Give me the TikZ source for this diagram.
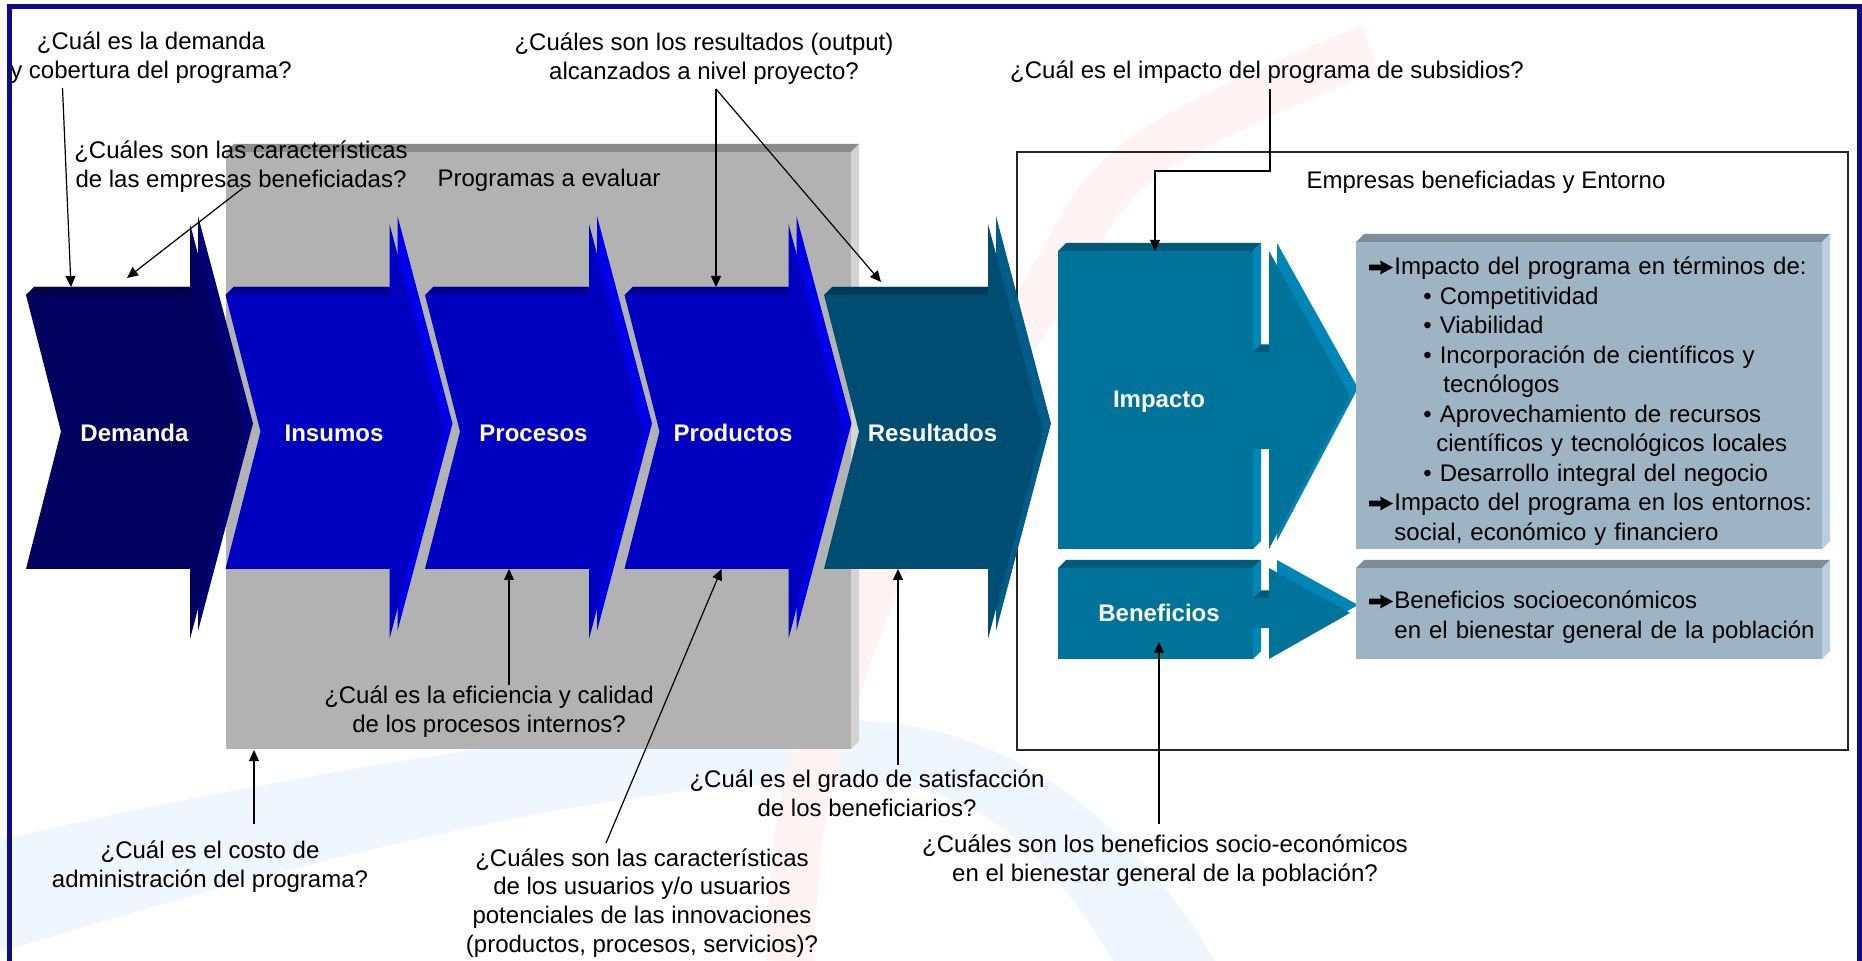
\documentclass[tikz,border=0pt]{standalone}
\usepackage{fontspec}
\setmainfont{Liberation Sans}
\usetikzlibrary{arrows.meta}
\definecolor{demF}{RGB}{0,0,94}
\definecolor{demT}{RGB}{0,0,68}
\definecolor{demS}{RGB}{0,0,118}
\definecolor{bluF}{RGB}{0,0,192}
\definecolor{bluT}{RGB}{0,0,148}
\definecolor{bluS}{RGB}{0,0,232}
\definecolor{resF}{RGB}{0,77,115}
\definecolor{resT}{RGB}{0,58,88}
\definecolor{resS}{RGB}{0,92,136}
\definecolor{impF}{RGB}{0,115,155}
\definecolor{impT}{RGB}{0,90,120}
\definecolor{impS}{RGB}{0,134,182}
\definecolor{txtF}{RGB}{158,179,196}
\definecolor{txtT}{RGB}{124,140,152}
\definecolor{txtS}{RGB}{182,207,225}
\definecolor{grF}{RGB}{178,178,178}
\definecolor{grT}{RGB}{140,140,140}
\definecolor{grS}{RGB}{212,212,212}
\definecolor{frameC}{RGB}{12,12,140}
\definecolor{blueSw}{RGB}{239,246,253}
\definecolor{pinkSw}{RGB}{255,244,243}
\tikzset{
  qtext/.style={align=center, inner sep=0pt, text=black},
  chevlabel/.style={text=white, inner sep=0pt, font=\fontsize{12}{14.4}\selectfont\bfseries},
  listtext/.style={text width=240pt, align=left, inner sep=0pt, font=\fontsize{12}{14.75}\selectfont},
  qarrow/.style={draw=black, line width=0.6pt, -{Triangle[length=5.5pt,width=5pt]}},
}
% chevron: #1 x0, #2 front, #3 top, #4 side, #5 label, #6 name
\newcommand{\drawchev}[6]{%
  \fill[#4] ({#1+8},287) -- ({#1+172},287) -- ({#1+172},216) -- ({#1+227},423.5) -- ({#1+172},631) -- ({#1+172},561) -- ({#1+8},561) -- ({#1+43},423.5) -- cycle;
  \fill[#3] (#1,295) -- ({#1+8},287) -- ({#1+172},287) -- ({#1+164},295) -- cycle;
  \fill[#2] (#1,295) -- ({#1+164},295) -- ({#1+164},224) -- ({#1+219},431.5) -- ({#1+164},639) -- ({#1+164},569) -- (#1,569) -- ({#1+35},431.5) -- cycle;
  \node[chevlabel] (#6) at ({#1+108.5},433) {#5};
}
% 3D box: #1 x1, #2 y1, #3 x2, #4 y2, #5 front, #6 top, #7 side
\newcommand{\boxthreed}[7]{%
  \fill[#6] (#1,#2) -- ({#1+8},{#2-8}) -- ({#3+8},{#2-8}) -- (#3,#2) -- cycle;
  \fill[#7] (#3,#2) -- ({#3+8},{#2-8}) -- ({#3+8},{#4-8}) -- (#3,#4) -- cycle;
  \fill[#5] (#1,#2) rectangle (#3,#4);
}
% heavy bullet arrow at (#1,#2) = left end, vertical centre
\newcommand{\heavyarrow}[2]{%
  \fill[black] (#1,{#2-2.8}) -- ({#1+12},{#2-2.8}) -- ({#1+11},{#2-7}) -- ({#1+24},#2) -- ({#1+11},{#2+7}) -- ({#1+12},{#2+2.8}) -- (#1,{#2+2.8}) -- cycle;
}
\begin{document}
\begin{tikzpicture}[x=0.5pt,y=-0.5pt,font=\fontsize{12}{14.4}\selectfont]
\useasboundingbox (0,0) rectangle (1862,961);
\clip (0,0) rectangle (1862,961);
\fill[white] (0,0) rectangle (1862,961);
% background swooshes
\fill[blueSw] (0,840) .. controls (300,770) and (700,705) .. (890,723) .. controls (1040,740) and (1150,850) .. (1215,961) -- (1113,961) .. controls (1060,870) and (990,790) .. (880,783) .. controls (650,770) and (300,860) .. (0,952) -- cycle;
\draw[pinkSw, line width=24pt] plot[smooth, tension=0.6] coordinates {(1370,48) (1140,160) (1040,300) (940,450) (865,610) (805,800) (790,961)};
% grey program box
\boxthreed{226}{152}{851}{749}{grF}{grT}{grS}
% outer frame of right part
\draw[black!85, line width=0.65pt] (1017,152) rectangle (1848,750);
% chevrons
\drawchev{26}{demF}{demT}{demS}{Demanda}{cdem}
\drawchev{225.5}{bluF}{bluT}{bluS}{Insumos}{cins}
\drawchev{425}{bluF}{bluT}{bluS}{Procesos}{cpro}
\drawchev{624.5}{bluF}{bluT}{bluS}{Productos}{cprd}
\drawchev{824}{resF}{resT}{resS}{Resultados}{cres}
% Impacto box and arrow
\boxthreed{1058}{251}{1253}{549}{impF}{impT}{impS}
\fill[impT] (1253,352) -- (1261,344.5) -- (1277,344.5) -- (1269,352) -- cycle;
\fill[impF] (1253,352) rectangle (1269,449);
\fill[impS] (1277,243) -- (1358,388) -- (1277,541) -- cycle;
\fill[impF] (1269,251) -- (1350,396) -- (1269,549) -- cycle;
\node[chevlabel] (limp) at (1159,402) {Impacto};
% Beneficios box and arrow
\boxthreed{1058}{568}{1253}{659}{impF}{impT}{impS}
\fill[impT] (1253,598) -- (1261,590.5) -- (1277,590.5) -- (1269,598) -- cycle;
\fill[impF] (1253,598) rectangle (1269,628);
\fill[impS] (1277,560) -- (1358,605) -- (1277,651) -- cycle;
\fill[impF] (1269,568) -- (1350,613) -- (1269,659) -- cycle;
\node[chevlabel] (lben) at (1159,613) {Beneficios};
% right text boxes
\boxthreed{1356}{242}{1822}{549}{txtF}{txtT}{txtS}
\boxthreed{1356}{568}{1822}{659}{txtF}{txtT}{txtS}
\node[listtext, anchor=base west] (list1) at (1369,275) {%
\hspace*{12.5pt}Impacto del programa en términos de:\\
\hspace*{27pt}•\ Competitividad\\
\hspace*{27pt}•\ Viabilidad\\
\hspace*{27pt}•\ Incorporación de científicos y\\
\hspace*{37pt}tecnólogos\\
\hspace*{27pt}•\ Aprovechamiento de recursos\\
\hspace*{33.5pt}científicos y tecnológicos locales\\
\hspace*{27pt}•\ Desarrollo integral del negocio\\
\hspace*{12.5pt}Impacto del programa en los entornos:\\
\hspace*{12.5pt}social, económico y financiero};
\node[listtext, anchor=base west] (list2) at (1369,609) {%
\hspace*{12.5pt}Beneficios socioeconómicos\\
\hspace*{12.5pt}en el bienestar general de la población};
\heavyarrow{1369}{267.5}
\heavyarrow{1369}{503.5}
\heavyarrow{1369}{601.5}
% titles
\node[qtext] (tprog) at (549,180) {Programas a evaluar};
\node[qtext] (temp) at (1486,182) {Empresas beneficiadas y Entorno};
% questions
\node[qtext] (qdem) at (151,58) {¿Cuál es la demanda\\y cobertura del programa?};
\node[qtext] (qcar) at (241,167) {¿Cuáles son las características\\de las empresas beneficiadas?};
\node[qtext] (qres) at (704,59) {¿Cuáles son los resultados (output)\\alcanzados a nivel proyecto?};
\node[qtext] (qimp) at (1267,72) {¿Cuál es el impacto del programa de subsidios?};
\node[qtext] (qefi) at (489,712) {¿Cuál es la eficiencia y calidad\\de los procesos internos?};
\node[qtext] (qcos) at (210,867) {¿Cuál es el costo de\\administración del programa?};
\node[qtext] (qusu) at (642,903) {¿Cuáles son las características\\de los usuarios y/o usuarios\\potenciales de las innovaciones\\(productos, procesos, servicios)?};
\node[qtext] (qsat) at (867,793) {¿Cuál es el grado de satisfacción\\de los beneficiarios?};
\node[qtext] (qben) at (1165,861) {¿Cuáles son los beneficios socio-económicos\\en el bienestar general de la población?};
% connector end points
\coordinate (a1s) at (62.5,88);   \coordinate (a1e) at (71,287);
\coordinate (a2s) at (243,188);   \coordinate (a2e) at (127,278);
\coordinate (a3s) at (716,89);    \coordinate (a3e) at (716,287);
\coordinate (a4e) at (881,282);
\coordinate (a5s) at (1270,89);   \coordinate (a5e) at (1155,251);
\coordinate (a6s) at (509,685);   \coordinate (a6e) at (509,569);
\coordinate (a7s) at (254,824);   \coordinate (a7e) at (254,750);
\coordinate (a8s) at (606,843);   \coordinate (a8e) at (721.5,569);
\coordinate (a9s) at (898,765);   \coordinate (a9e) at (898,569);
\coordinate (a10s) at (1159,824); \coordinate (a10e) at (1159,642);
\draw[qarrow] (a1s) -- (a1e);
\draw[qarrow] (a2s) -- (a2e);
\draw[qarrow] (a3s) -- (a3e);
\draw[qarrow] (a3s) -- (a4e);
\draw[qarrow] (a5s) -- (1270,171) -- (1155,171) -- (a5e);
\draw[qarrow] (a6s) -- (a6e);
\draw[qarrow] (a7s) -- (a7e);
\draw[qarrow] (a8s) -- (a8e);
\draw[qarrow] (a9s) -- (a9e);
\draw[qarrow] (a10s) -- (a10e);
% page frame
\draw[frameC, line width=2.5pt] (9.5,7) rectangle (1859,1100);
\end{tikzpicture}
\end{document}
